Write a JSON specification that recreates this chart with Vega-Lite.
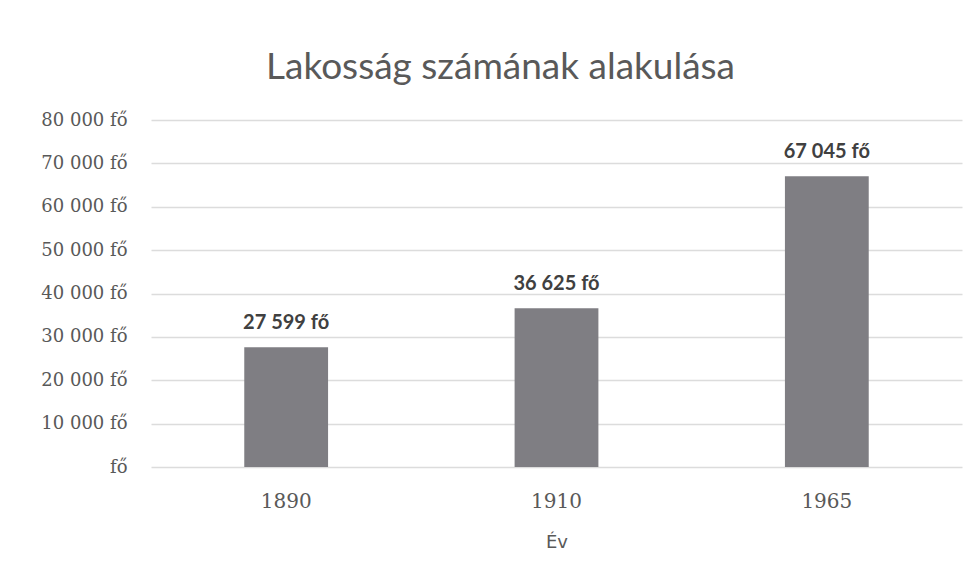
{
  "$schema": "https://vega.github.io/schema/vega-lite/v6.json",
  "width": 811,
  "height": 347,
  "autosize": {"type": "none"},
  "padding": {"left": 151, "top": 120, "right": 6, "bottom": 111},
  "background": "white",
  "title": {
    "text": "Lakosság számának alakulása",
    "font": "Lato",
    "fontSize": 37,
    "fontWeight": "normal",
    "color": "#595959",
    "anchor": "middle",
    "dx": -56,
    "offset": 24
  },
  "data": {
    "values": [
      {"ev": "1890", "lakossag": 27599},
      {"ev": "1910", "lakossag": 36625},
      {"ev": "1965", "lakossag": 67045}
    ]
  },
  "encoding": {
    "x": {
      "field": "ev",
      "type": "nominal",
      "scale": {"paddingInner": 0.69, "paddingOuter": 0.345},
      "axis": {
        "title": "Év",
        "labelAngle": 0,
        "labelFont": "DejaVu Serif",
        "labelFontSize": 20,
        "labelColor": "#595959",
        "labelPadding": 24,
        "titleFont": "DejaVu Sans",
        "titleFontSize": 18,
        "titleFontWeight": "normal",
        "titleColor": "#595959",
        "titlePadding": 22,
        "domain": false,
        "ticks": false
      }
    },
    "y": {
      "field": "lakossag",
      "type": "quantitative",
      "scale": {"domain": [0, 80000]},
      "axis": {
        "title": null,
        "values": [0, 10000, 20000, 30000, 40000, 50000, 60000, 70000, 80000],
        "labelExpr": "datum.value === 0 ? 'fő' : replace(format(datum.value, ','), ',', ' ') + ' fő'",
        "labelFont": "DejaVu Serif",
        "labelFontSize": 18,
        "labelColor": "#595959",
        "labelPadding": 24,
        "domain": false,
        "ticks": false,
        "gridColor": "#dcdcdc",
        "gridWidth": 1.5
      }
    }
  },
  "layer": [
    {"mark": {"type": "bar", "color": "#7f7e83"}},
    {
      "mark": {
        "type": "text",
        "baseline": "bottom",
        "dy": -14,
        "font": "Lato",
        "fontSize": 20,
        "fontWeight": "bold",
        "color": "#404040",
        "text": {"expr": "replace(format(datum.lakossag, ','), ',', ' ') + ' fő'"}
      }
    }
  ],
  "config": {"view": {"stroke": null}}
}
